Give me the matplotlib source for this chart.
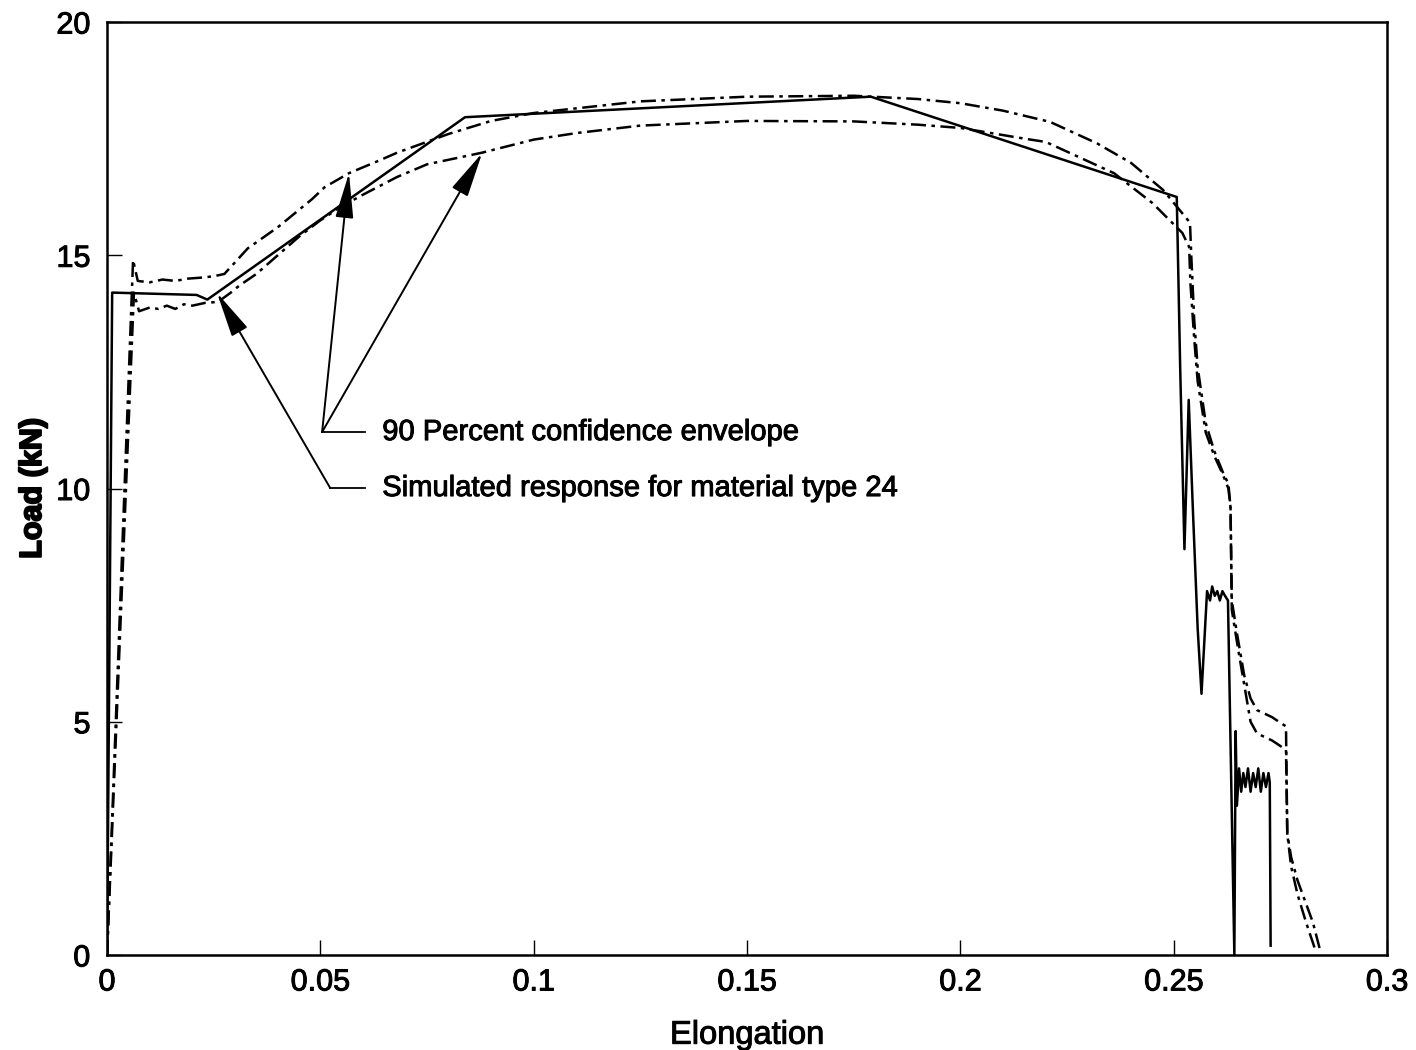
import matplotlib.pyplot as plt
import matplotlib.patheffects as pe

plt.rcParams['font.family'] = ['Liberation Sans', 'DejaVu Sans']

# simulated response (solid)
sim_x = [0, 0.0012, 0.021, 0.0235, 0.0839, 0.179, 0.2507, 0.2515, 0.2525, 0.2535,
         0.2545, 0.2556, 0.2565, 0.2578, 0.2585, 0.259, 0.2596, 0.2602, 0.2608, 0.2614,
         0.262, 0.2627, 0.2642, 0.2645, 0.2648, 0.2653, 0.2658, 0.2663, 0.2668, 0.2674,
         0.268, 0.2686, 0.2692, 0.2698, 0.2704, 0.271, 0.2716, 0.2722, 0.2725, 0.2727]
sim_y = [0, 14.2, 14.15, 14.05, 17.96, 18.4, 16.25, 12.6, 8.7, 11.9,
         9.5, 7.0, 5.6, 7.8, 7.6, 7.9, 7.7, 7.8, 7.6, 7.8,
         7.7, 7.6, 0.0, 4.8, 3.2, 4.0, 3.5, 3.9, 3.6, 4.0,
         3.5, 3.9, 3.6, 4.0, 3.5, 3.9, 3.6, 3.9, 3.7, 0.2]

# upper confidence envelope (dash-dot)
up_x = [0, 0.0061, 0.0072, 0.01, 0.013, 0.016, 0.019, 0.022, 0.025, 0.0275,
        0.029, 0.031, 0.033, 0.04, 0.048, 0.051, 0.0567, 0.064, 0.068, 0.08,
        0.09, 0.1, 0.125, 0.15, 0.175, 0.19, 0.2, 0.21, 0.221, 0.232,
        0.24, 0.2475, 0.252, 0.2538, 0.2541, 0.2548, 0.2556, 0.2575, 0.2595, 0.2615,
        0.2628, 0.2633, 0.2636, 0.2648, 0.2665, 0.268, 0.2695, 0.273, 0.2763, 0.2766,
        0.2775, 0.279, 0.281, 0.2826, 0.2843]
up_y = [0, 14.9, 14.45, 14.42, 14.48, 14.45, 14.5, 14.52, 14.55, 14.6,
        14.75, 14.95, 15.15, 15.6, 16.2, 16.46, 16.76, 17.04, 17.2, 17.6,
        17.88, 18.05, 18.3, 18.4, 18.42, 18.35, 18.26, 18.1, 17.86, 17.4,
        16.98, 16.4, 15.9, 15.7, 15.0, 13.6, 12.6, 11.4, 10.8, 10.35,
        10.1, 9.6, 7.6, 6.9, 6.0, 5.5, 5.25, 5.1, 4.9, 2.6,
        2.1, 1.6, 1.1, 0.7, 0.1]

# lower confidence envelope (dash-dot)
lo_x = [0, 0.0063, 0.0075, 0.01, 0.012, 0.014, 0.016, 0.018, 0.02, 0.023,
        0.026, 0.029, 0.031, 0.035, 0.04, 0.045, 0.05, 0.055, 0.06, 0.068,
        0.075, 0.0879, 0.1, 0.11, 0.125, 0.15, 0.175, 0.19, 0.2, 0.215,
        0.22, 0.236, 0.245, 0.252, 0.2536, 0.2539, 0.2548, 0.2556, 0.2575, 0.2595,
        0.2615, 0.2628, 0.2633, 0.2636, 0.265, 0.2665, 0.268, 0.2695, 0.273, 0.2763,
        0.2766, 0.2775, 0.279, 0.281, 0.2832]
lo_y = [0, 14.2, 13.8, 13.88, 13.85, 13.92, 13.85, 13.95, 13.92, 13.98,
        14.0, 14.2, 14.35, 14.6, 15.0, 15.4, 15.75, 16.05, 16.3, 16.68,
        16.95, 17.2, 17.48, 17.62, 17.78, 17.88, 17.87, 17.8, 17.73, 17.5,
        17.43, 16.76, 16.12, 15.48, 15.18, 14.4, 13.2, 12.3, 11.2, 10.7,
        10.3, 10.0, 9.6, 7.4, 6.6, 5.8, 5.0, 4.75, 4.6, 4.4,
        2.6, 1.9, 1.3, 0.7, 0.1]

x_ticks = [0, 0.05, 0.1, 0.15, 0.2, 0.25, 0.3]
x_labels = ['0', '0.05', '0.1', '0.15', '0.2', '0.25', '0.3']
y_ticks = [0, 5, 10, 15, 20]

fig = plt.figure(figsize=(14.16, 10.5), dpi=100)
ax = fig.add_axes([0.0756, 0.0905, 0.904, 0.8885])

dashdot = (0, (6, 2.2, 1.4, 2.2))
ax.plot(sim_x, sim_y, color='black', lw=1.8)
ax.plot(up_x, up_y, color='black', lw=1.8, linestyle=dashdot)
ax.plot(lo_x, lo_y, color='black', lw=1.8, linestyle=dashdot)

ax.set_xlim(0, 0.3)
ax.set_ylim(0, 20)
ax.set_xticks(x_ticks)
ax.set_xticklabels(x_labels)
ax.set_yticks(y_ticks)
ax.tick_params(direction='in', length=11, width=1, labelsize=22, pad=9)
ax.tick_params(axis='y', pad=12)
for s in ax.spines.values():
    s.set_linewidth(1.8)

# slightly heavier strokes, like the scanned original
heavy = [pe.withStroke(linewidth=0.7, foreground='black')]
bolder = [pe.withStroke(linewidth=1.4, foreground='black')]

ax.set_xlabel('Elongation', fontsize=23.5, labelpad=16, path_effects=heavy)
ax.set_ylabel('Load (kN)', fontsize=22, fontweight='bold', labelpad=6,
              path_effects=bolder)
for lab in ax.get_xticklabels() + ax.get_yticklabels():
    lab.set_path_effects(heavy)

# annotations
arrow = dict(arrowstyle='-|>,head_length=1.4,head_width=0.28', color='black',
             lw=1.4, shrinkA=0, shrinkB=0, mutation_scale=20)
env_start = (0.0504, 11.21)
ax.plot([env_start[0], 0.0605], [env_start[1], env_start[1]], color='black', lw=1.3)
ax.annotate('', xy=(0.0567, 16.76), xytext=env_start, arrowprops=arrow)
ax.annotate('', xy=(0.0879, 17.19), xytext=env_start, arrowprops=arrow)
ax.text(0.0645, 11.21, '90 Percent confidence envelope', fontsize=21,
        va='center', ha='left', path_effects=heavy)

sim_start = (0.0523, 10.01)
ax.plot([sim_start[0], 0.0605], [sim_start[1], sim_start[1]], color='black', lw=1.3)
ax.annotate('', xy=(0.0258, 14.19), xytext=sim_start, arrowprops=arrow)
ax.text(0.0645, 10.01, 'Simulated response for material type 24', fontsize=21,
        va='center', ha='left', path_effects=heavy)

fig.savefig('out.png', dpi=100)
